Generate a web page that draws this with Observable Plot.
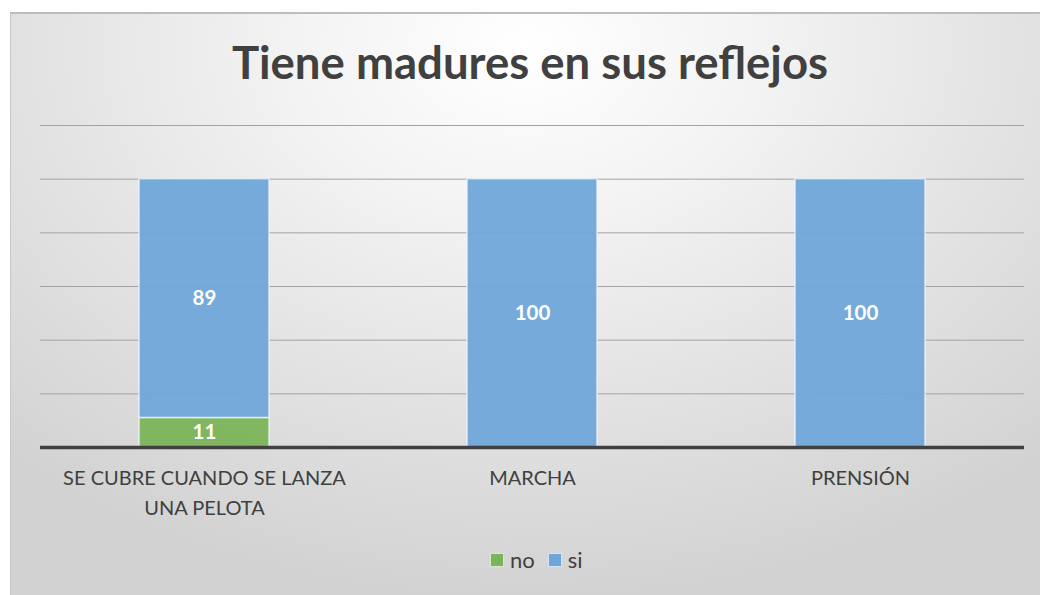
<!DOCTYPE html>
<html>
<head>
<meta charset="utf-8">
<script src="https://cdn.jsdelivr.net/npm/d3@7"></script>
<script src="https://cdn.jsdelivr.net/npm/@observablehq/plot@0.6"></script>
<style>
  body { margin: 0; background: #fff; }
  #wrap { position: relative; width: 1040px; height: 595px; overflow: hidden; font-family: Lato, "Open Sans", sans-serif; }
  #frame { position: absolute; left: 10px; top: 12px; width: 1030px; height: 583px;
    border-top: 2px solid #bdbdbd; border-left: 1px solid #c8c8c8;
    background: radial-gradient(ellipse 75% 95% at 50% 6%, #ffffff 0%, #f3f3f3 30%, #e2e2e2 65%, #d2d2d2 100%); }
  #title { position: absolute; left: 0; width: 1060px; top: 34px; text-align: center; font-weight: bold; font-size: 45.5px; color: #404040; }
  #chart { position: absolute; left: 0; top: 0; }
  #legend { position: absolute; top: 546px; left: 490px; font-size: 22px; color: #404040; display: flex; align-items: center; }
  .sw { width: 12px; height: 12px; border: 1px solid rgba(255,255,255,0.7); display: inline-block; margin-right: 6px; }
</style>
</head>
<body>
<div id="wrap">
  <div id="frame"></div>
  <div id="title">Tiene madures en sus reflejos</div>
  <div id="chart"></div>
  <div id="legend"></div>
</div>
<script>
const categories = ["SE CUBRE CUANDO SE LANZA UNA PELOTA", "MARCHA", "PRENSIÓN"];
const tickLabels = ["SE CUBRE CUANDO SE LANZA\nUNA PELOTA", "MARCHA", "PRENSIÓN"];
const seriesNames = ["no", "si"];
const noValues = [11, 0, 0];
const siValues = [89, 100, 100];
const yTicks = [20, 40, 60, 80, 100, 120];
const colors = ["#7cb45b", "#6fa6d9"];

const data = [];
categories.forEach((c, i) => {
  data.push({cat: c, series: "no", value: noValues[i]});
  data.push({cat: c, series: "si", value: siValues[i]});
});
const labelOf = new Map(categories.map((c, i) => [c, tickLabels[i]]));

const chart = Plot.plot({
  width: 1040,
  height: 595,
  marginTop: 125,
  marginBottom: 148,
  marginLeft: 40,
  marginRight: 16,
  style: {background: "transparent", fontFamily: "Lato, 'Open Sans', sans-serif", overflow: "visible"},
  x: {domain: categories, paddingInner: 0.604, paddingOuter: 0.302, axis: null},
  y: {domain: [0, 120], axis: null},
  color: {domain: seriesNames, range: colors},
  marks: [
    Plot.ruleY(yTicks, {stroke: "#a3a3a3", strokeWidth: 1}),
    Plot.barY(data, {x: "cat", y: "value", fill: "series", fillOpacity: 0.95, stroke: "#eef4fa", strokeOpacity: 0.8, strokeWidth: 1.5}),
    Plot.text(data, Plot.stackY({x: "cat", y: "value", text: d => d.value > 0 ? String(d.value) : "", fill: "white", fontWeight: "bold", fontSize: 20.5})),
    Plot.ruleY([0], {stroke: "#404040", strokeWidth: 3.5}),
    Plot.text(categories, {x: d => d, text: d => labelOf.get(d), frameAnchor: "bottom", dy: 16, lineAnchor: "top", lineHeight: 1.5, fontSize: 20, fill: "#404040"})
  ]
});
document.getElementById("chart").appendChild(chart);

const legend = document.getElementById("legend");
seriesNames.forEach((s, i) => {
  const sw = document.createElement("span");
  sw.className = "sw";
  sw.style.background = colors[i];
  const t = document.createElement("span");
  t.textContent = s;
  t.style.marginRight = i === 0 ? "13px" : "0";
  legend.appendChild(sw);
  legend.appendChild(t);
});
</script>
</body>
</html>
